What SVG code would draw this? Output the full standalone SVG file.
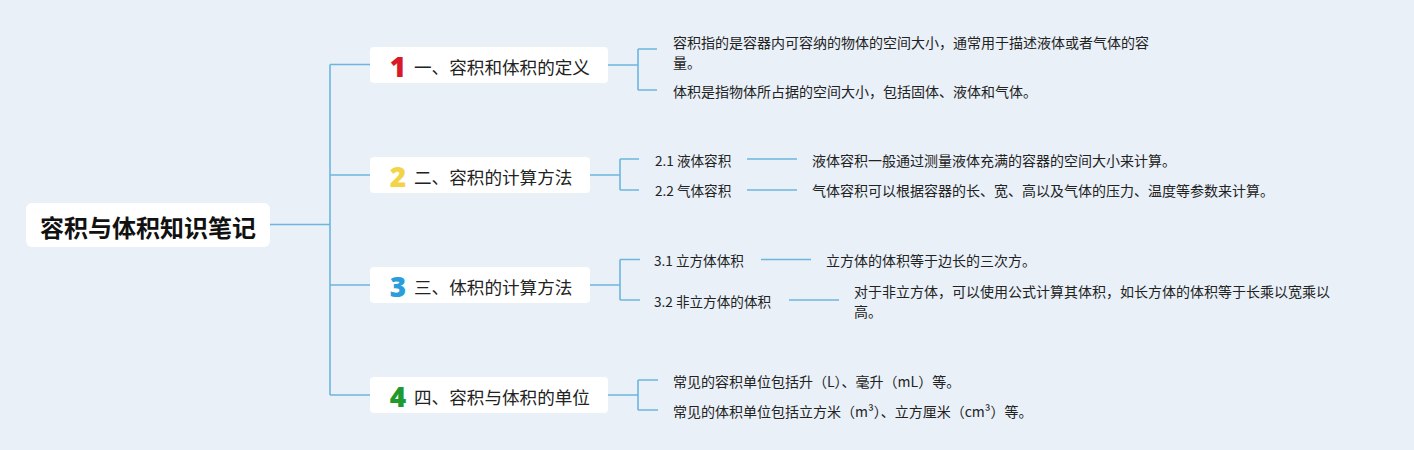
<svg xmlns="http://www.w3.org/2000/svg" width="1414" height="450" viewBox="0 0 1414 450">
<style>
text{font-family:"Noto Sans CJK SC","Noto Sans",sans-serif;fill:#222;dominant-baseline:central}
.box{fill:#fff}
.ln{fill:none;stroke:#6cb6dc;stroke-width:1.6}
.root{font-size:24px;font-weight:bold;fill:#111}
.br{font-size:17.6px}
.num{font-family:"Open Sans","Noto Sans",sans-serif;font-size:28px;font-weight:800;text-anchor:middle}
.sub{font-size:13.6px}
.leaf{font-size:14px}
</style>
<rect width="1414" height="450" fill="#e9f0f8"/>
<g id="connectors">
<path class="ln" d="M270 224.5H330M330 64.5V395M330 64.5H370M330 175H370M330 285H370M330 395H370"/>
<path class="ln" d="M608 65H638M638 49V90M638 49H657M638 90H657"/>
<path class="ln" d="M590 175H620M620 159V190M620 159H639M620 190H639M747 159H797M747 190H797"/>
<path class="ln" d="M590 285H620M620 259.5V300M620 259.5H640M620 300H640M761 259.5H811M789 300H839"/>
<path class="ln" d="M608 395H638M638 380V410M638 380H658M638 410H658"/>
</g>
<g id="root">
<rect class="box" x="26" y="203" width="244" height="44" rx="6"/>
<text class="root" x="40" y="226">容积与体积知识笔记</text>
</g>
<g id="b1">
<rect class="box" x="370" y="47" width="238" height="36" rx="4"/>
<text class="num" x="398" y="66" style="fill:#d9192a">1</text>
<text class="br" x="414" y="66">一、容积和体积的定义</text>
</g>
<g id="b2">
<rect class="box" x="370" y="157" width="220" height="36" rx="4"/>
<text class="num" x="398" y="176" style="fill:#f3d348">2</text>
<text class="br" x="414" y="176">二、容积的计算方法</text>
</g>
<g id="b3">
<rect class="box" x="370" y="267" width="220" height="36" rx="4"/>
<text class="num" x="398" y="286" style="fill:#2a9ddb">3</text>
<text class="br" x="414" y="286">三、体积的计算方法</text>
</g>
<g id="b4">
<rect class="box" x="370" y="377" width="238" height="36" rx="4"/>
<text class="num" x="398" y="396" style="fill:#1f9a2e">4</text>
<text class="br" x="414" y="396">四、容积与体积的单位</text>
</g>
<g id="l1a"><text class="leaf" x="673" y="42">容积指的是容器内可容纳的物体的空间大小，通常用于描述液体或者气体的容</text><text class="leaf" x="673" y="62">量。</text></g>
<g id="l1b"><text class="leaf" x="673" y="91">体积是指物体所占据的空间大小，包括固体、液体和气体。</text></g>
<g id="s21"><text class="sub" x="655" y="160">2.1 液体容积</text></g>
<g id="l21"><text class="leaf" x="812" y="160">液体容积一般通过测量液体充满的容器的空间大小来计算。</text></g>
<g id="s22"><text class="sub" x="655" y="190">2.2 气体容积</text></g>
<g id="l22"><text class="leaf" x="812" y="190">气体容积可以根据容器的长、宽、高以及气体的压力、温度等参数来计算。</text></g>
<g id="s31"><text class="sub" x="654" y="260">3.1 立方体体积</text></g>
<g id="l31"><text class="leaf" x="826" y="260">立方体的体积等于边长的三次方。</text></g>
<g id="s32"><text class="sub" x="654" y="301">3.2 非立方体的体积</text></g>
<g id="l32"><text class="leaf" x="854" y="291">对于非立方体，可以使用公式计算其体积，如长方体的体积等于长乘以宽乘以</text><text class="leaf" x="854" y="311">高。</text></g>
<g id="l4a"><text class="leaf" x="673" y="381">常见的容积单位包括升（L）、毫升（mL）等。</text></g>
<g id="l4b"><text class="leaf" x="673" y="411">常见的体积单位包括立方米（m³）、立方厘米（cm³）等。</text></g>
</svg>
